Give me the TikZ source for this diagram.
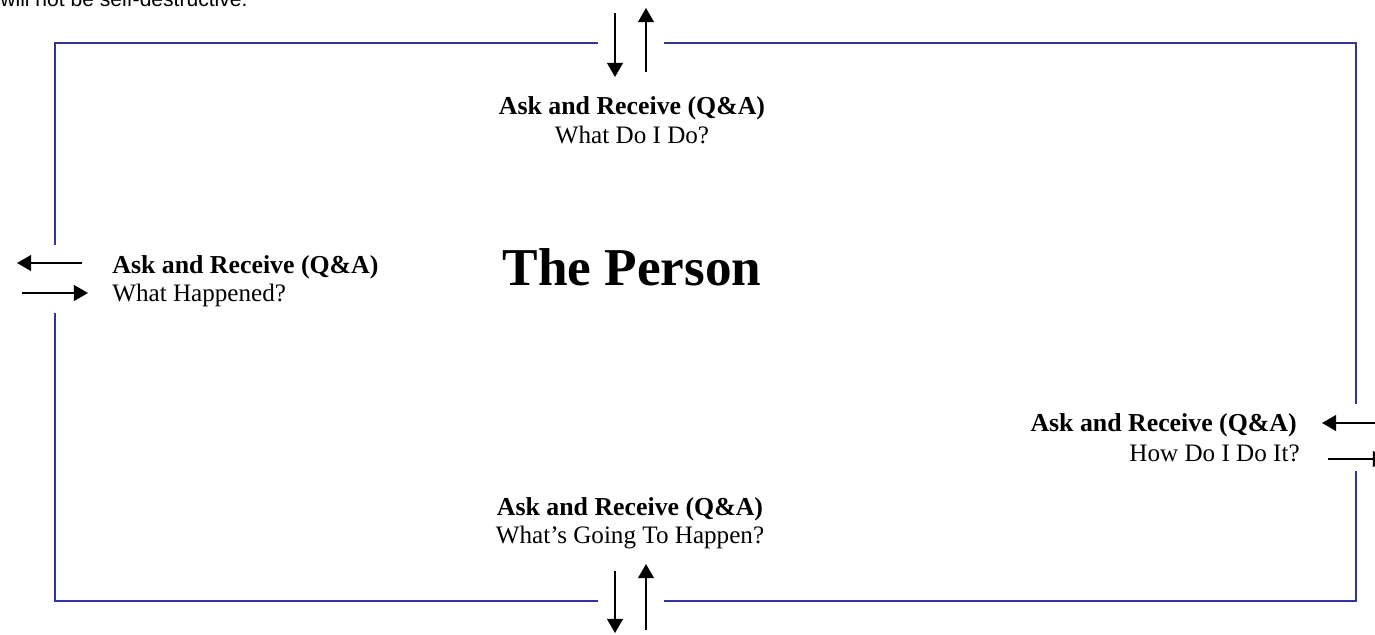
\documentclass[tikz,border=0pt]{standalone}
\usepackage{fontspec}
\setmainfont{Liberation Serif}
\newfontfamily\notefont{Liberation Sans}
\usetikzlibrary{arrows.meta}
\definecolor{framecol}{RGB}{51,51,153}

\begin{document}
\begin{tikzpicture}[x=0.02cm,y=-0.02cm,
    frame/.style={draw=framecol,line width=1.2pt},
    flow/.style={draw=black,line width=0.9pt,-{Triangle[length=8pt,width=9pt]}},
    head/.style={font=\fontsize{14.7}{17}\selectfont\bfseries,inner sep=0pt},
    sub/.style={font=\fontsize{14.3}{17}\selectfont,inner sep=0pt}]

    \useasboundingbox (0,0) rectangle (1375,635);
    \clip (0,0) rectangle (1375,635);

    % note line cut at the top
    \node[anchor=base west,inner sep=0pt,font=\notefont\fontsize{12}{14}\selectfont] (note) at (0,7) {will not be self-destructive.};

    % frame, open where the arrows pass
    \draw[frame] (598,43) -- (55,43) -- (55,245);
    \draw[frame] (55,313) -- (55,601) -- (598,601);
    \draw[frame] (664,601) -- (1356,601) -- (1356,471);
    \draw[frame] (1356,404) -- (1356,43) -- (664,43);

    % centre
    \node[anchor=base,inner sep=0pt,font=\fontsize{30.3}{36}\selectfont\bfseries] (person) at (632,285) {The Person};

    % top
    \node[head,anchor=base] (topq) at (632,114) {Ask and Receive (Q\&A)};
    \node[sub,anchor=base] (topa) at (632,143) {What Do I Do?};
    \coordinate (topin0) at (615,13);
    \coordinate (topin1) at (615,77);
    \coordinate (topout0) at (646,72);
    \coordinate (topout1) at (646,8);
    \draw[flow] (topin0) -- (topin1); % in
    \draw[flow] (topout0) -- (topout1); % out

    % left
    \node[head,anchor=base west] (leftq) at (112,273) {Ask and Receive (Q\&A)};
    \node[sub,anchor=base west] (lefta) at (112,301) {What Happened?};
    \coordinate (leftout0) at (82,263);
    \coordinate (leftout1) at (17,263);
    \coordinate (leftin0) at (22,293);
    \coordinate (leftin1) at (88,293);
    \draw[flow] (leftout0) -- (leftout1); % out
    \draw[flow] (leftin0) -- (leftin1); % in

    % right
    \node[head,anchor=base east] (rightq) at (1297,431) {Ask and Receive (Q\&A)};
    \node[sub,anchor=base east] (righta) at (1300,461) {How Do I Do It?};
    \coordinate (rightin0) at (1375,423);
    \coordinate (rightin1) at (1322,423);
    \coordinate (rightout0) at (1328,459);
    \coordinate (rightout1) at (1387,459);
    \draw[flow] (rightin0) -- (rightin1); % in
    \draw[flow] (rightout0) -- (rightout1); % out, cut by the edge

    % bottom
    \node[head,anchor=base] (botq) at (630,515) {Ask and Receive (Q\&A)};
    \node[sub,anchor=base] (bota) at (630,543) {What's Going To Happen?};
    \coordinate (botin0) at (615,571);
    \coordinate (botin1) at (615,633);
    \coordinate (botout0) at (646,630);
    \coordinate (botout1) at (646,564);
    \draw[flow] (botin0) -- (botin1); % in
    \draw[flow] (botout0) -- (botout1); % out

\end{tikzpicture}
\end{document}
